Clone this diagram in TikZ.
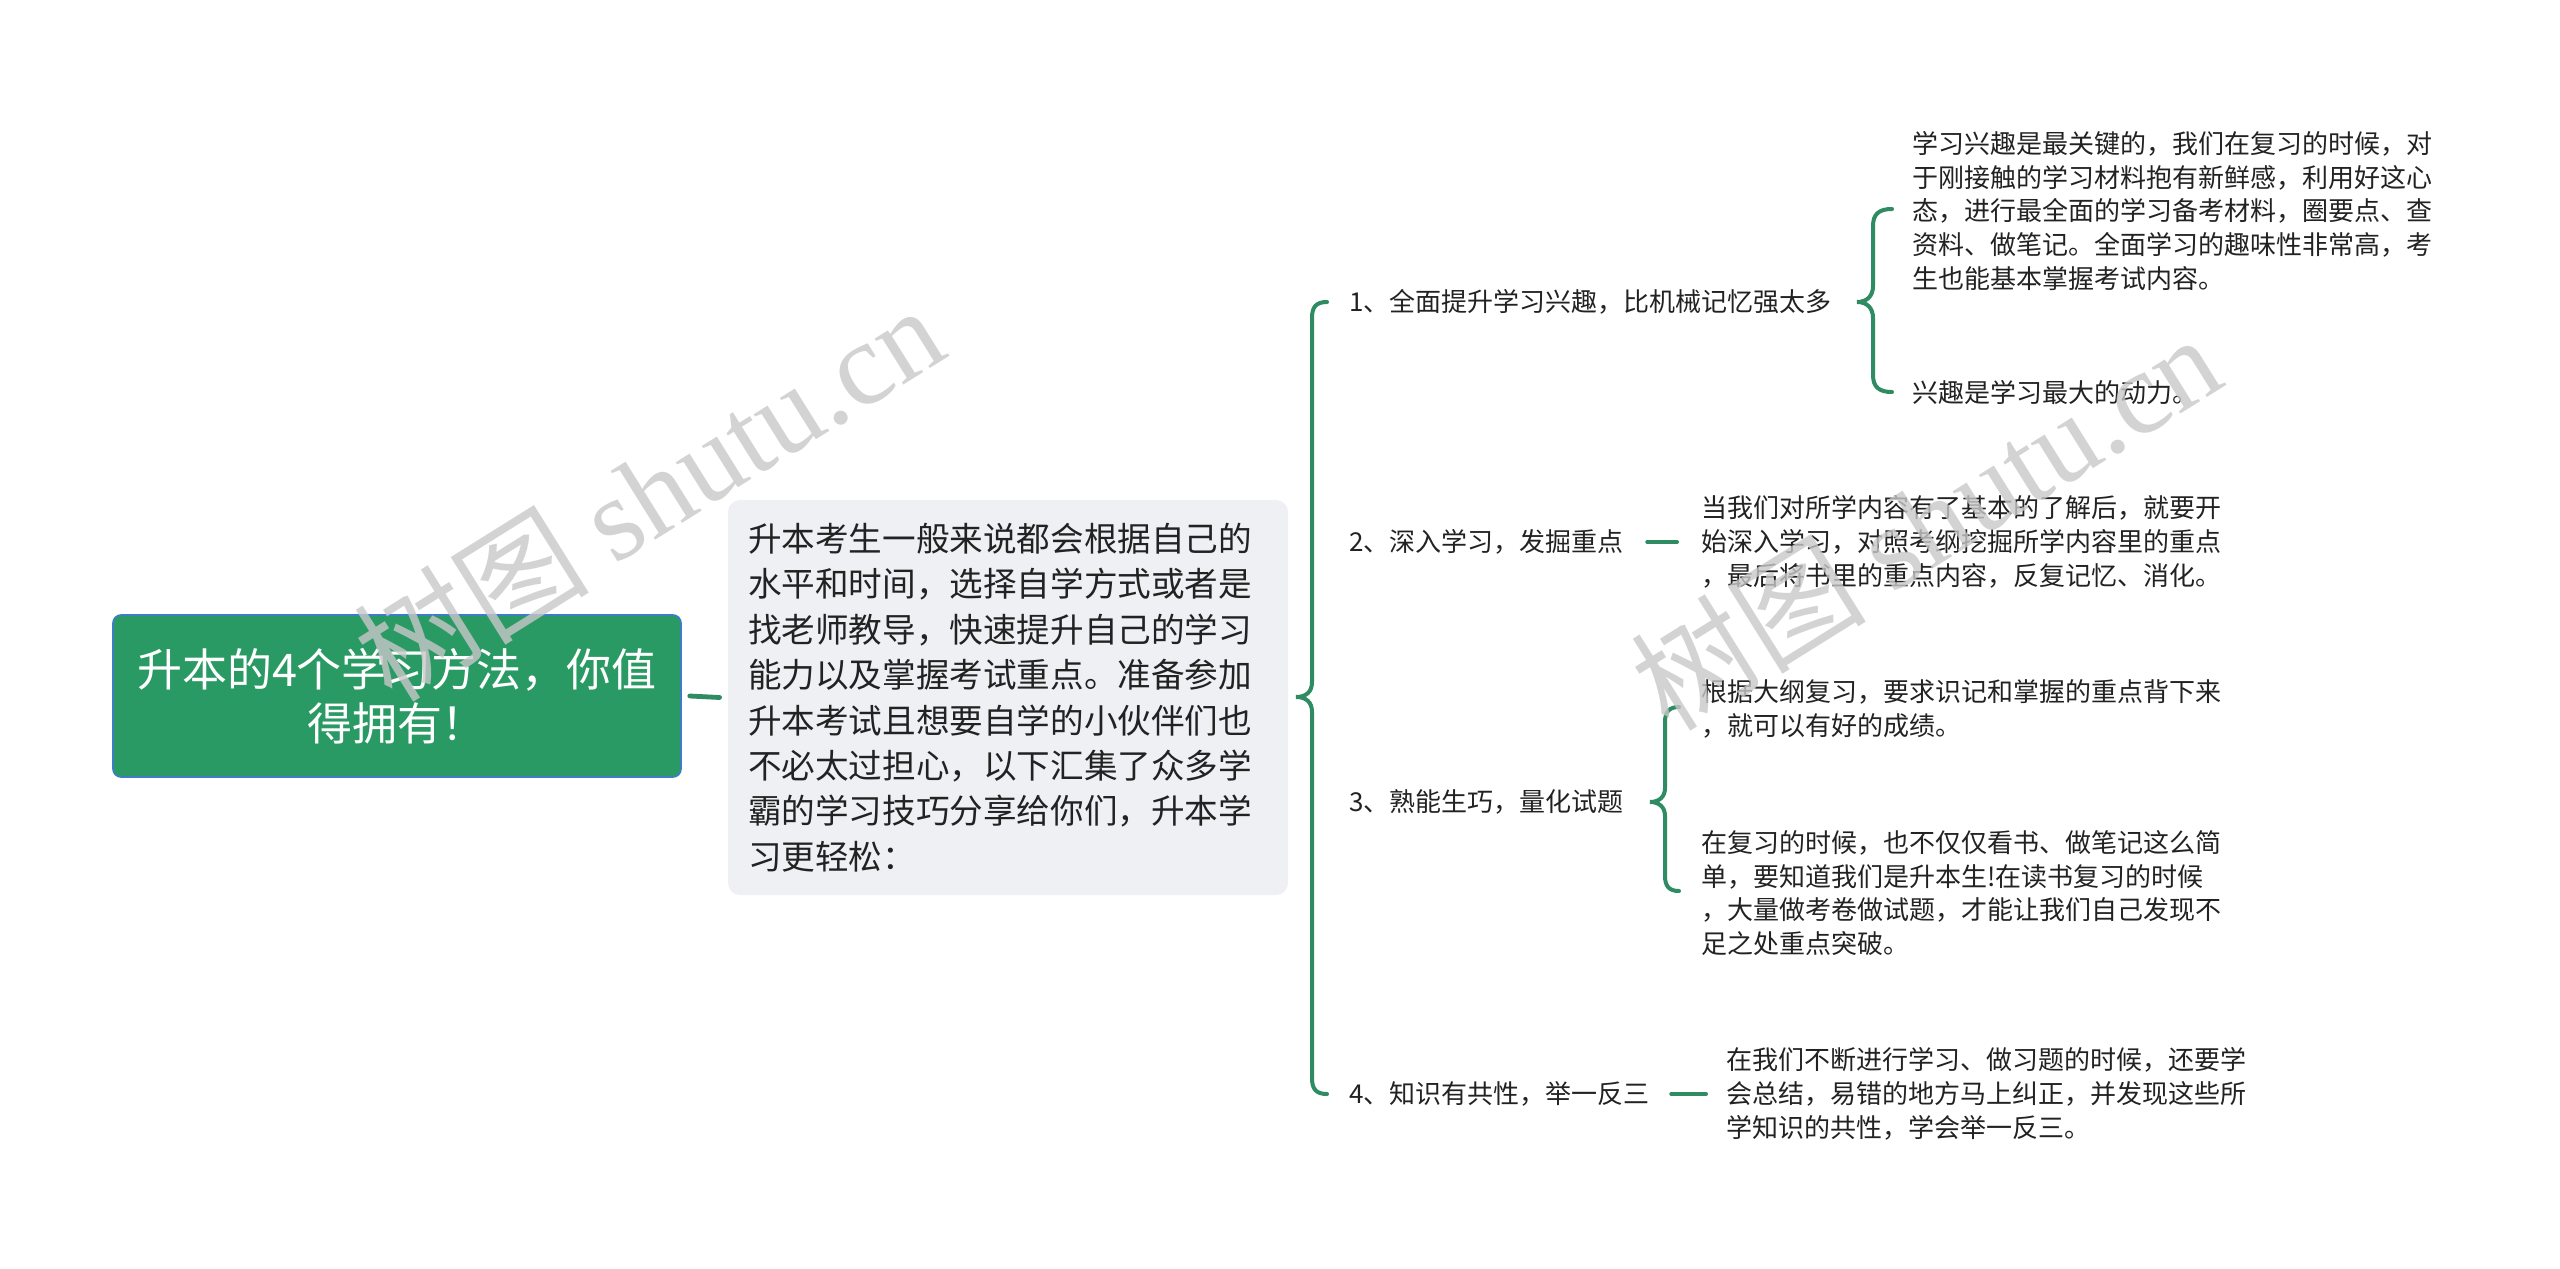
\documentclass[tikz,border=0pt]{standalone}
\usepackage{fontspec}
\setmainfont{Noto Sans CJK SC}
\newfontfamily\markfont{Liberation Serif}
\definecolor{mapgreen}{HTML}{2E8B62}
\definecolor{rootgreen}{HTML}{2A9A64}
\definecolor{rootblue}{HTML}{3D7CC9}
\definecolor{introgray}{HTML}{EEF0F3}
\definecolor{inkgray}{HTML}{222222}
\definecolor{markgray}{HTML}{C8C8C8}

\begin{document}
\begin{tikzpicture}[x=0.5pt, y=-0.5pt,
		link/.style={draw=mapgreen, line width=2pt, line cap=round},
		rootbox/.style={draw=rootblue, line width=0.8pt, fill=rootgreen, rounded corners=4pt,
			minimum width=284pt, minimum height=81pt, text=white, align=center,
			font=\fontsize{22.5}{27}\selectfont},
		introbox/.style={fill=introgray, rounded corners=6pt, minimum width=280pt,
			minimum height=197.5pt, text width=260pt, text=inkgray, align=left,
			font=\fontsize{16.8}{22.7}\selectfont},
		branch/.style={anchor=west, inner sep=0pt, text=inkgray,
			font=\fontsize{13}{16.9}\selectfont},
		leaf/.style={anchor=west, inner sep=0pt, text=inkgray, align=left,
			font=\fontsize{13}{16.9}\selectfont},
		wmark/.style={rotate=32, text=markgray, text opacity=0.8,
			font=\fontsize{59}{62}\selectfont}]
		\useasboundingbox (0,0) rectangle (2560,1269);

		% left side
		\node[rootbox] (root) at (397,696) {升本的4个学习方法，你值\\得拥有！};
		\node[introbox] (intro) at (1008,697.5) {升本考生一般来说都会根据自己的\\水平和时间，选择自学方式或者是\\找老师教导，快速提升自己的学习\\能力以及掌握考试重点。准备参加\\升本考试且想要自学的小伙伴们也\\不必太过担心，以下汇集了众多学\\霸的学习技巧分享给你们，升本学\\习更轻松：};
		\draw[link, line width=2.4pt] ([xshift=4pt]root.east) -- ([xshift=-4pt]intro.west);

		% branches
		\node[branch] (lab1) at (1349,302) {1、全面提升学习兴趣，比机械记忆强太多};
		\node[branch] (lab2) at (1349,542) {2、深入学习，发掘重点};
		\node[branch] (lab3) at (1349,802) {3、熟能生巧，量化试题};
		\node[branch] (lab4) at (1349,1094) {4、知识有共性，举一反三};

		% leaves
		\node[leaf] (note1a) at (1912,211) {学习兴趣是最关键的，我们在复习的时候，对\\于刚接触的学习材料抱有新鲜感，利用好这心\\态，进行最全面的学习备考材料，圈要点、查\\资料、做笔记。全面学习的趣味性非常高，考\\生也能基本掌握考试内容。};
		\node[leaf] (note1b) at (1912,393) {兴趣是学习最大的动力。};
		\node[leaf] (note2) at (1701,542) {当我们对所学内容有了基本的了解后，就要开\\始深入学习，对照考纲挖掘所学内容里的重点\\，最后将书里的重点内容，反复记忆、消化。};
		\node[leaf] (note3a) at (1701,709) {根据大纲复习，要求识记和掌握的重点背下来\\，就可以有好的成绩。};
		\node[leaf] (note3b) at (1701,893) {在复习的时候，也不仅仅看书、做笔记这么简\\单，要知道我们是升本生!在读书复习的时候\\，大量做考卷做试题，才能让我们自己发现不\\足之处重点突破。};
		\node[leaf] (note4) at (1726,1094) {在我们不断进行学习、做习题的时候，还要学\\会总结，易错的地方马上纠正，并发现这些所\\学知识的共性，学会举一反三。};

		% braces
		\draw[link] (1327,302) .. controls (1316,302) and (1312,307) .. (1312,318) -- (1312,682)
			.. controls (1312,692) and (1306,697) .. (1296,697)
			.. controls (1306,697) and (1312,702) .. (1312,712) -- (1312,1078)
			.. controls (1312,1089) and (1316,1094) .. (1327,1094);
		\draw[link] (1892,209) .. controls (1879,209) and (1873,214) .. (1873,226) -- (1873,286)
			.. controls (1873,296) and (1867,302) .. (1857,302)
			.. controls (1867,302) and (1873,308) .. (1873,318) -- (1873,375)
			.. controls (1873,387) and (1879,392) .. (1892,392);
		\draw[link] (1679,707) .. controls (1669,707) and (1665,712) .. (1665,722) -- (1665,788)
			.. controls (1665,797) and (1659,802) .. (1650,802)
			.. controls (1659,802) and (1665,807) .. (1665,816) -- (1665,876)
			.. controls (1665,886) and (1669,891) .. (1679,891);
		\draw[link] ([xshift=11.5pt]lab2.east) -- ([xshift=-12pt]note2.west);
		\draw[link] ([xshift=10.5pt]lab4.east) -- ([xshift=-10pt]note4.west);

		% watermarks
		\node[wmark] (mark1) at (648,492) {树图 {\markfont shutu.cn}};
		\node[wmark] (mark2) at (1925,521) {树图 {\markfont shutu.cn}};
	\end{tikzpicture}
\end{document}
